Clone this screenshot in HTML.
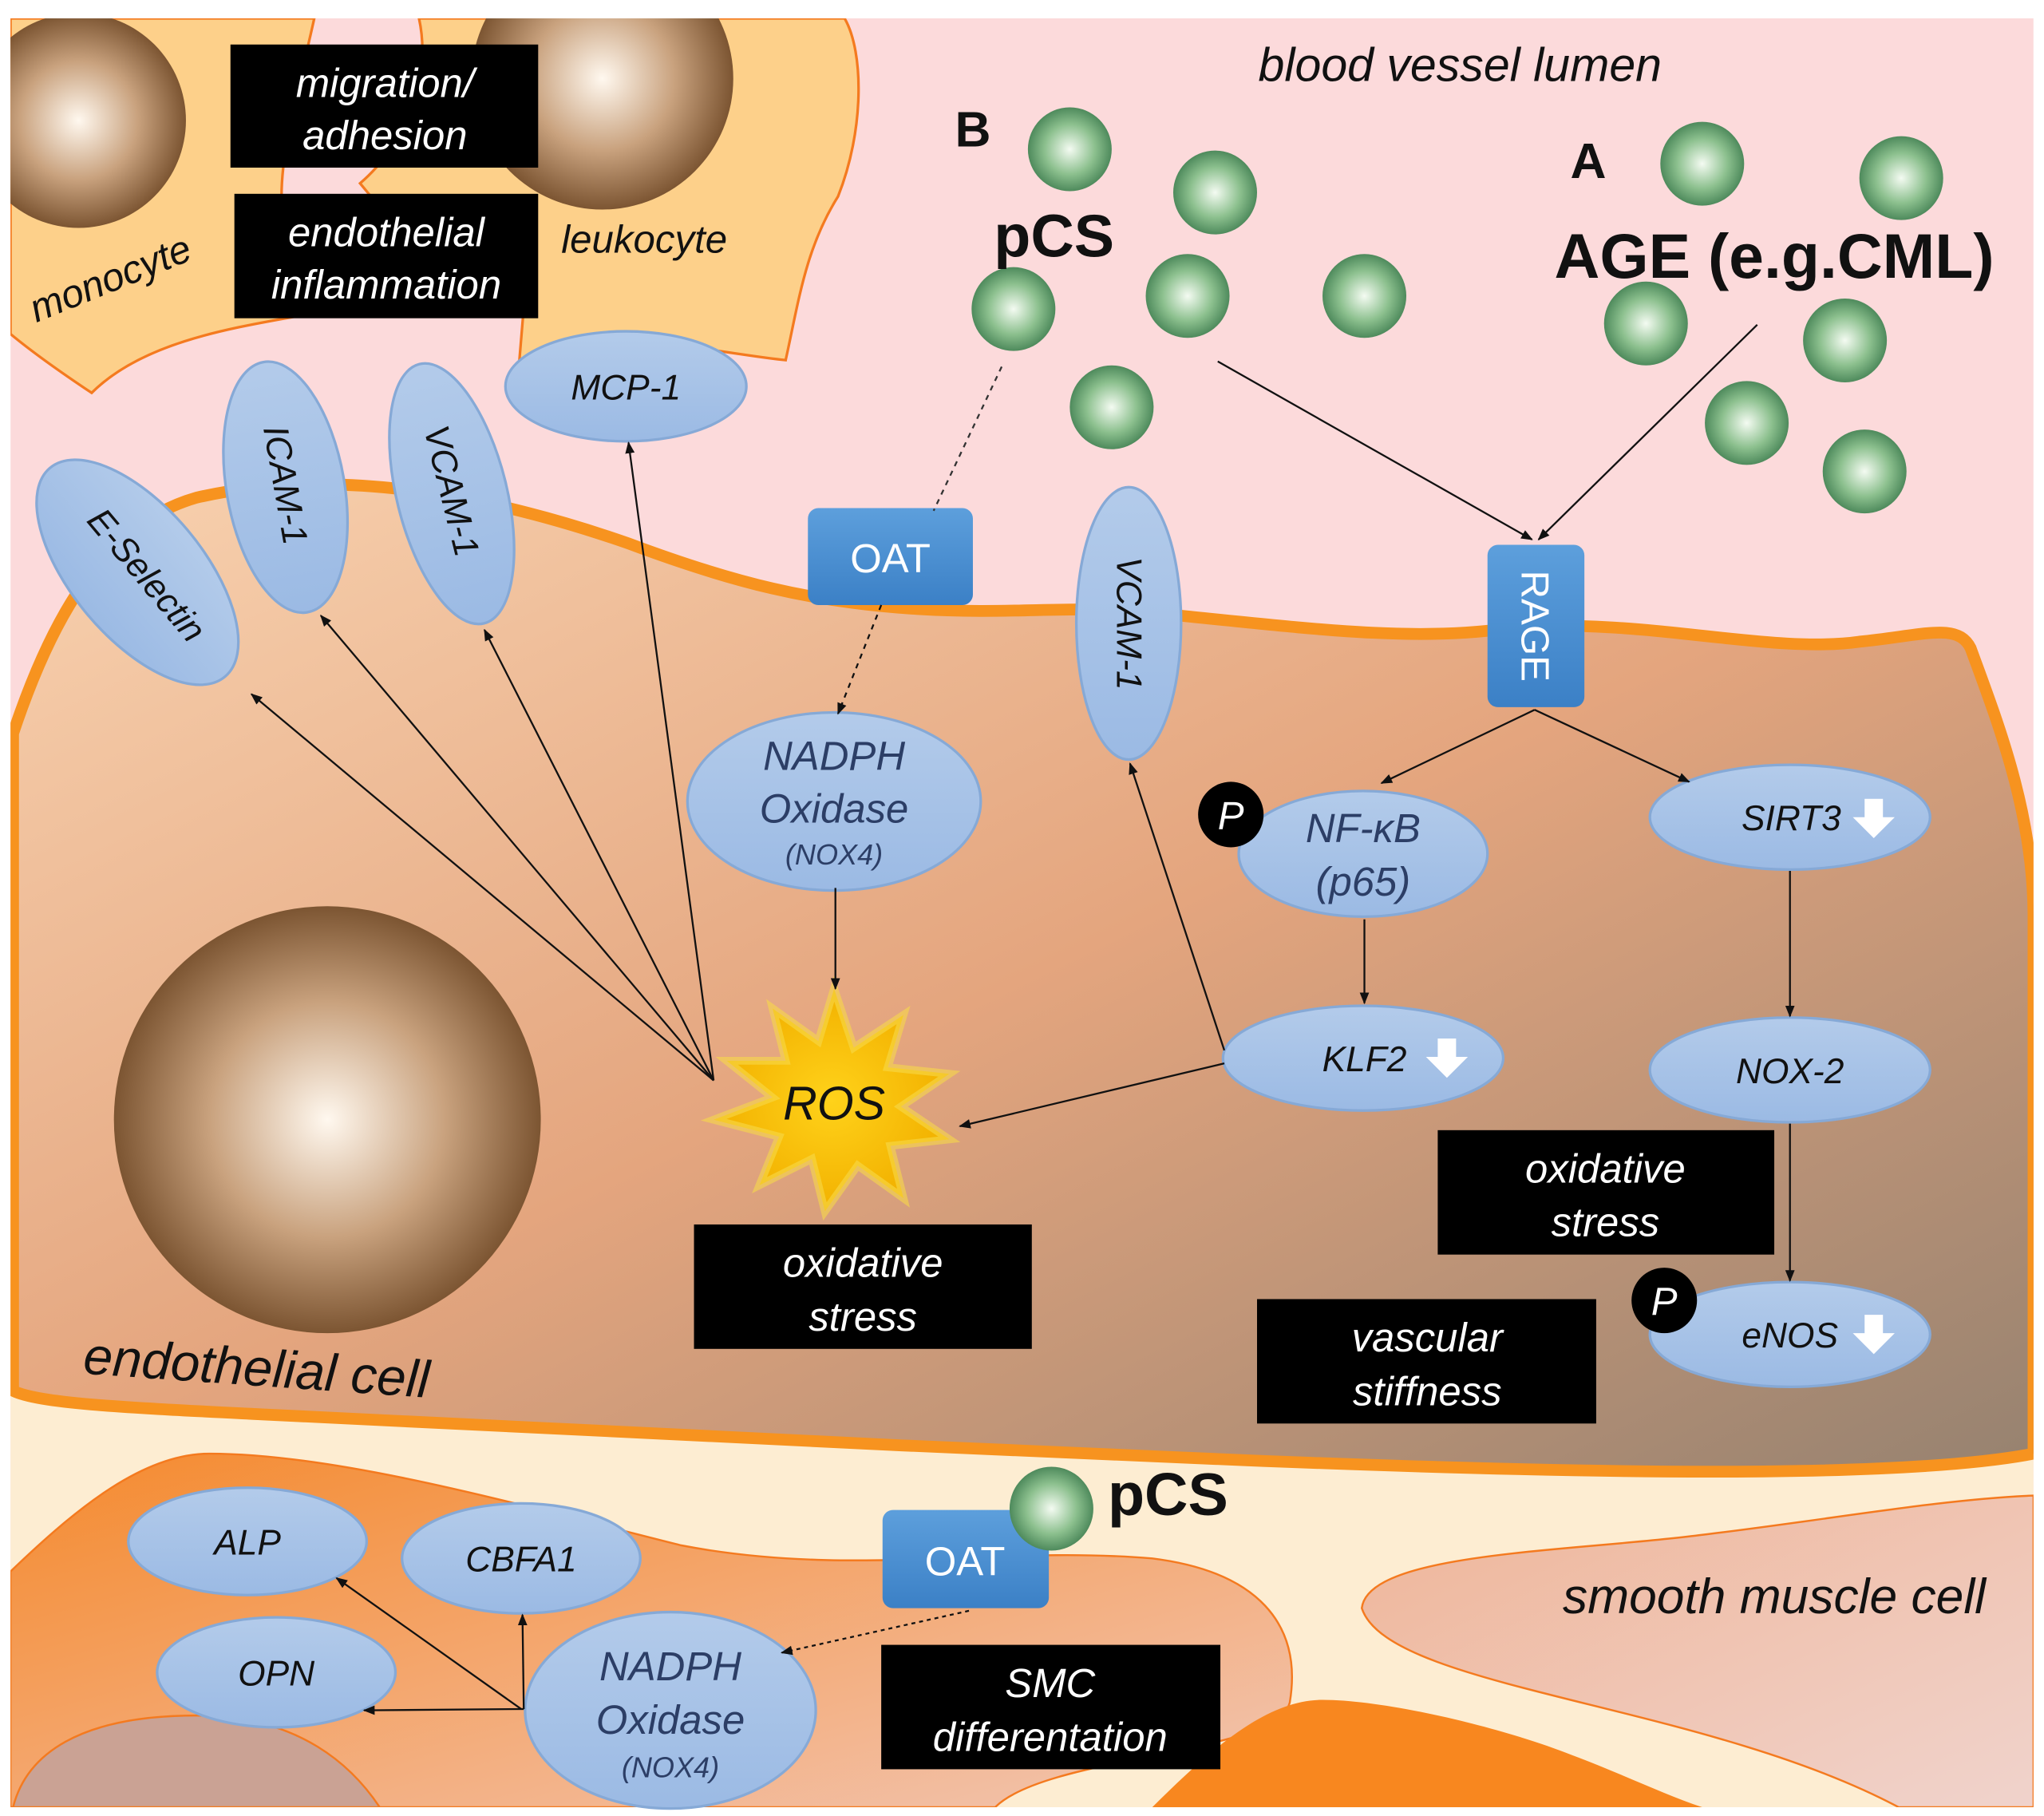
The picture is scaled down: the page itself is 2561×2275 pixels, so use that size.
<!DOCTYPE html>
<html><head><meta charset="utf-8"><style>
html,body{margin:0;padding:0;background:#fff}
svg{display:block}
text{font-family:"Liberation Sans",sans-serif}
</style></head><body>
<svg width="2561" height="2275" viewBox="0 0 1561 1386.7" preserveAspectRatio="none" xmlns="http://www.w3.org/2000/svg">
<defs>
<clipPath id="frame"><rect x="8" y="14" width="1545" height="1366"/></clipPath>
<linearGradient id="endo" x1="0" y1="0" x2="1" y2="1">
<stop offset="0" stop-color="#f8d2b0"/><stop offset="0.5" stop-color="#e4a57e"/><stop offset="1" stop-color="#968270"/></linearGradient>
<linearGradient id="smc1" x1="0" y1="0" x2="1" y2="1">
<stop offset="0" stop-color="#f58a2e"/><stop offset="1" stop-color="#f2c6b4"/></linearGradient>
<linearGradient id="smc2" x1="0" y1="0" x2="1" y2="1">
<stop offset="0" stop-color="#efb598"/><stop offset="1" stop-color="#f0d3cc"/></linearGradient>
<radialGradient id="nuc" cx="0.5" cy="0.5" r="0.5">
<stop offset="0" stop-color="#fff8ef"/><stop offset="0.55" stop-color="#c9a27e"/><stop offset="1" stop-color="#7c5532"/></radialGradient>
<radialGradient id="grn" cx="0.5" cy="0.5" r="0.5">
<stop offset="0" stop-color="#f4fbf2"/><stop offset="0.6" stop-color="#8cc08e"/><stop offset="1" stop-color="#4e8a5c"/></radialGradient>
<linearGradient id="ell" x1="0" y1="0" x2="0" y2="1">
<stop offset="0" stop-color="#b3cbea"/><stop offset="1" stop-color="#9bbae4"/></linearGradient>
<linearGradient id="box" x1="0" y1="0" x2="0" y2="1">
<stop offset="0" stop-color="#5d9fdc"/><stop offset="1" stop-color="#3b80c6"/></linearGradient>
<radialGradient id="ros" cx="0.5" cy="0.5" r="0.5">
<stop offset="0" stop-color="#ffd21a"/><stop offset="1" stop-color="#f2b100"/></radialGradient>
<marker id="ar" viewBox="0 0 10 10" refX="9" refY="5" markerWidth="9" markerHeight="9" orient="auto" markerUnits="userSpaceOnUse"><path d="M0,1 L10,5 L0,9Z" fill="#111"/></marker>
</defs>
<g clip-path="url(#frame)">
<rect x="8" y="14" width="1545" height="1366" fill="#fcdadb"/>
<rect x="8" y="1060" width="1545" height="320" fill="#fdedd2"/>
<!-- leukocyte/monocyte -->
<path d="M8,14 L240,14 C230,60 215,110 215,150 L235,240 C180,250 110,260 70,300 C40,280 20,265 8,255Z" fill="#fdd08a" stroke="#f47a1f" stroke-width="2"/>
<path d="M320,14 L645,14 C660,40 660,100 640,150 C615,190 610,230 600,275 C550,270 470,250 420,270 C400,290 410,300 395,295 L400,235 C330,210 300,170 275,140 C310,110 330,60 320,14Z" fill="#fdd08a" stroke="#f47a1f" stroke-width="2"/>
<circle cx="60" cy="92" r="82" fill="url(#nuc)"/>
<circle cx="460" cy="60" r="100" fill="url(#nuc)"/>
<!-- smooth muscle cells -->
<path d="M8,1200 C60,1150 110,1110 160,1110 C260,1110 400,1150 520,1180 C650,1205 760,1180 880,1190 C960,1200 995,1240 985,1300 C975,1340 800,1340 760,1380 L8,1380Z" fill="url(#smc1)" stroke="#f47a1f" stroke-width="1.5"/>
<path d="M1040,1228 C1045,1185 1200,1185 1300,1172 C1400,1160 1480,1145 1553,1142 L1553,1380 L1450,1380 C1300,1300 1060,1290 1040,1228Z" fill="url(#smc2)" stroke="#f47a1f" stroke-width="1.5"/>
<path d="M880,1380 C930,1330 970,1298 1010,1298 C1060,1298 1150,1320 1200,1340 C1240,1355 1270,1370 1300,1380Z" fill="#f8871f"/>
<path d="M10,1380 C20,1340 60,1310 150,1310 C230,1310 270,1350 290,1380Z" fill="#caa294" stroke="#f47a1f" stroke-width="1.5"/>
<!-- endothelial cell -->
<path d="M10,1062 L10,560 C40,470 80,400 150,380 C260,355 380,380 480,415 C560,445 620,460 700,465 C780,470 830,460 900,470 C1000,480 1080,490 1150,480 C1250,470 1350,500 1420,490 C1470,485 1495,475 1505,495 C1525,550 1553,620 1553,700 L1553,1110 C1450,1130 1200,1125 950,1115 C700,1105 400,1090 200,1080 C100,1075 30,1072 10,1062Z" fill="url(#endo)" stroke="#f7931f" stroke-width="9"/>
<circle cx="250" cy="855" r="163" fill="url(#nuc)"/>
</g>
<!-- black boxes -->
<g fill="#000"><rect x="176" y="34" width="235" height="94"/><rect x="179" y="148" width="232" height="95"/><rect x="530" y="935" width="258" height="95"/><rect x="1098" y="863" width="257" height="95"/><rect x="960" y="992" width="259" height="95"/><rect x="673" y="1256" width="259" height="95"/></g>
<g fill="#fff" font-style="italic" font-size="31" text-anchor="middle">
<text x="294" y="74">migration/</text><text x="294" y="114">adhesion</text>
<text x="295" y="188">endothelial</text><text x="295" y="228">inflammation</text>
<text x="659" y="975">oxidative</text><text x="659" y="1016">stress</text>
<text x="1226" y="903">oxidative</text><text x="1226" y="944">stress</text>
<text x="1090" y="1032">vascular</text><text x="1090" y="1073">stiffness</text>
<text x="802" y="1296">SMC</text><text x="802" y="1337">differentation</text>
</g>
<g fill="url(#grn)">
<circle cx="817" cy="114" r="32"/><circle cx="928" cy="147" r="32"/><circle cx="774" cy="236" r="32"/><circle cx="907" cy="226" r="32"/><circle cx="1042" cy="226" r="32"/><circle cx="849" cy="311" r="32"/><circle cx="1300" cy="125" r="32"/><circle cx="1452" cy="136" r="32"/><circle cx="1257" cy="247" r="32"/><circle cx="1409" cy="260" r="32"/><circle cx="1334" cy="323" r="32"/><circle cx="1424" cy="360" r="32"/>
</g>
<g fill="url(#ell)" stroke="#86a9d6" stroke-width="2">
<ellipse cx="0" cy="0" rx="104" ry="50" transform="translate(105,437) rotate(50)"/>
<ellipse cx="0" cy="0" rx="45" ry="97" transform="translate(218,372) rotate(-10)"/>
<ellipse cx="0" cy="0" rx="42" ry="102" transform="translate(345,377) rotate(-14)"/>
<ellipse cx="478" cy="295" rx="92" ry="42"/>
<ellipse cx="862" cy="476" rx="40" ry="104"/>
<ellipse cx="637" cy="612" rx="112" ry="68"/>
<ellipse cx="1041" cy="652" rx="95" ry="48"/>
<ellipse cx="1367" cy="624" rx="107" ry="40"/>
<ellipse cx="1041" cy="808" rx="107" ry="40"/>
<ellipse cx="1367" cy="817" rx="107" ry="40"/>
<ellipse cx="1367" cy="1019" rx="107" ry="40"/>
<ellipse cx="189" cy="1177" rx="91" ry="41"/>
<ellipse cx="398" cy="1190" rx="91" ry="42"/>
<ellipse cx="211" cy="1277" rx="91" ry="42"/>
<ellipse cx="512" cy="1306" rx="111" ry="75"/>
</g>
<g font-style="italic" font-size="27" fill="#111" text-anchor="middle">
<text transform="translate(105,445) rotate(50)">E-Selectin</text>
<text transform="translate(209,372) rotate(80)">ICAM-1</text>
<text transform="translate(336,377) rotate(76)">VCAM-1</text>
<text x="478" y="305">MCP-1</text>
<text transform="translate(853,476) rotate(90)">VCAM-1</text>
<text x="1368" y="634">SIRT3</text>
<text x="1042" y="818">KLF2</text>
<text x="1367" y="827">NOX-2</text>
<text x="1367" y="1029">eNOS</text>
<text x="189" y="1187">ALP</text>
<text x="398" y="1200">CBFA1</text>
<text x="211" y="1287">OPN</text>
</g>
<g font-style="italic" fill="#2c3e66" text-anchor="middle">
<text x="637" y="588" font-size="31">NADPH</text><text x="637" y="628" font-size="31">Oxidase</text><text x="637" y="660" font-size="22">(NOX4)</text>
<text x="1041" y="643" font-size="31">NF-κB</text><text x="1041" y="684" font-size="31">(p65)</text>
<text x="512" y="1283" font-size="31">NADPH</text><text x="512" y="1324" font-size="31">Oxidase</text><text x="512" y="1357" font-size="22">(NOX4)</text>
</g>
<g fill="#fff"><path d="M1424,610 h14 v14 h9 l-16,16 l-16,-16 h9z"/><path d="M1098,793 h14 v14 h9 l-16,16 l-16,-16 h9z"/><path d="M1424,1004 h14 v14 h9 l-16,16 l-16,-16 h9z"/></g>
<circle cx="940" cy="622" r="25" fill="#000"/><text x="940" y="633" font-size="30" font-style="italic" fill="#fff" text-anchor="middle">P</text>
<circle cx="1271" cy="993" r="25" fill="#000"/><text x="1271" y="1004" font-size="30" font-style="italic" fill="#fff" text-anchor="middle">P</text>
<rect x="617" y="388" width="126" height="74" rx="8" fill="url(#box)"/><text x="680" y="437" font-size="31" fill="#fff" text-anchor="middle">OAT</text>
<rect x="1136" y="416" width="74" height="124" rx="8" fill="url(#box)"/><text transform="translate(1162,478) rotate(90)" font-size="30" fill="#fff" text-anchor="middle">RAGE</text>
<rect x="674" y="1153" width="127" height="75" rx="8" fill="url(#box)"/><text x="737" y="1203" font-size="31" fill="#fff" text-anchor="middle">OAT</text>
<circle cx="803" cy="1152" r="32" fill="url(#grn)"/>
<path d="M637,755 L652,800 L690,775 L678,815 L725,820 L688,845 L725,870 L680,875 L690,915 L655,890 L630,925 L620,885 L580,905 L595,868 L545,855 L590,838 L555,810 L600,810 L590,770 L625,795Z" fill="url(#ros)" stroke="#f7d94a" stroke-width="6" stroke-opacity="0.6"/>
<text x="637" y="855" font-size="36" font-style="italic" fill="#111" text-anchor="middle">ROS</text>
<g stroke="#111" stroke-width="1.4" fill="none" marker-end="url(#ar)">
<line x1="545" y1="825" x2="192" y2="530"/>
<line x1="545" y1="825" x2="245" y2="470"/>
<line x1="545" y1="825" x2="370" y2="481"/>
<line x1="545" y1="825" x2="480" y2="338"/>
<line x1="638" y1="678" x2="638" y2="755"/>
<line x1="935" y1="812" x2="733" y2="860"/>
<line x1="935" y1="802" x2="863" y2="583"/>
<line x1="1172" y1="542" x2="1055" y2="598"/>
<line x1="1172" y1="542" x2="1290" y2="597"/>
<line x1="1042" y1="702" x2="1042" y2="766"/>
<line x1="1367" y1="665" x2="1367" y2="776"/>
<line x1="1367" y1="858" x2="1367" y2="978"/>
<line x1="930" y1="276" x2="1170" y2="412"/>
<line x1="1342" y1="248" x2="1175" y2="412"/>
<line x1="400" y1="1305" x2="278" y2="1306"/>
<line x1="398" y1="1305" x2="257" y2="1205"/>
<line x1="400" y1="1305" x2="399" y2="1233"/>
<line x1="740" y1="1230" x2="597" y2="1262" stroke-dasharray="3,3"/>
<line x1="673" y1="462" x2="640" y2="545" stroke-dasharray="4,4"/>
</g>
<line x1="765" y1="280" x2="713" y2="390" stroke="#333" stroke-width="1.4" stroke-dasharray="4,4"/>
<g fill="#111" font-style="italic">
<text x="1115" y="62" font-size="36" text-anchor="middle">blood vessel lumen</text>
<text transform="translate(88,222) rotate(-22)" font-size="30" text-anchor="middle">monocyte</text>
<text x="492" y="193" font-size="30" text-anchor="middle">leukocyte</text>
<text transform="translate(195,1058) rotate(4)" font-size="40" text-anchor="middle">endothelial cell</text>
<text x="1355" y="1232" font-size="38" text-anchor="middle">smooth muscle cell</text>
</g>
<g fill="#111" font-weight="bold">
<text x="743" y="112" font-size="38" text-anchor="middle">B</text>
<text x="1213" y="136" font-size="38" text-anchor="middle">A</text>
<text x="805" y="196" font-size="46" text-anchor="middle">pCS</text>
<text x="1355" y="212" font-size="48" text-anchor="middle">AGE (e.g.CML)</text>
<text x="892" y="1157" font-size="46" text-anchor="middle">pCS</text>
</g>
</svg>
</body></html>
